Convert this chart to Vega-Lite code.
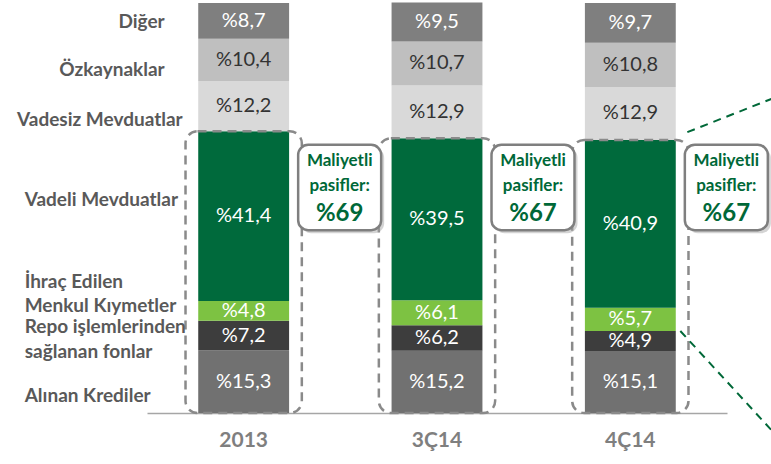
{
  "$schema": "https://vega.github.io/schema/vega-lite/v6.json",
  "width": 580,
  "height": 410,
  "autosize": {"type": "none"},
  "padding": {"left": 147, "top": 3, "right": 44, "bottom": 51},
  "background": "white",
  "config": {
    "view": {"stroke": null},
    "font": "Lato",
    "locale": {
      "number": {"decimal": ",", "thousands": ".", "grouping": [3], "currency": ["%", ""]}
    }
  },
  "datasets": {
    "bars": [
      {"cat": "2013", "seg": "Alınan Krediler", "o": 1, "v": 15.3},
      {"cat": "2013", "seg": "Repo", "o": 2, "v": 7.2},
      {"cat": "2013", "seg": "İhraç Edilen Menkul Kıymetler", "o": 3, "v": 4.8},
      {"cat": "2013", "seg": "Vadeli Mevduatlar", "o": 4, "v": 41.4},
      {"cat": "2013", "seg": "Vadesiz Mevduatlar", "o": 5, "v": 12.2},
      {"cat": "2013", "seg": "Özkaynaklar", "o": 6, "v": 10.4},
      {"cat": "2013", "seg": "Diğer", "o": 7, "v": 8.7},
      {"cat": "3Ç14", "seg": "Alınan Krediler", "o": 1, "v": 15.2},
      {"cat": "3Ç14", "seg": "Repo", "o": 2, "v": 6.2},
      {"cat": "3Ç14", "seg": "İhraç Edilen Menkul Kıymetler", "o": 3, "v": 6.1},
      {"cat": "3Ç14", "seg": "Vadeli Mevduatlar", "o": 4, "v": 39.5},
      {"cat": "3Ç14", "seg": "Vadesiz Mevduatlar", "o": 5, "v": 12.9},
      {"cat": "3Ç14", "seg": "Özkaynaklar", "o": 6, "v": 10.7},
      {"cat": "3Ç14", "seg": "Diğer", "o": 7, "v": 9.5},
      {"cat": "4Ç14", "seg": "Alınan Krediler", "o": 1, "v": 15.1},
      {"cat": "4Ç14", "seg": "Repo", "o": 2, "v": 4.9},
      {"cat": "4Ç14", "seg": "İhraç Edilen Menkul Kıymetler", "o": 3, "v": 5.7},
      {"cat": "4Ç14", "seg": "Vadeli Mevduatlar", "o": 4, "v": 40.9},
      {"cat": "4Ç14", "seg": "Vadesiz Mevduatlar", "o": 5, "v": 12.9},
      {"cat": "4Ç14", "seg": "Özkaynaklar", "o": 6, "v": 10.8},
      {"cat": "4Ç14", "seg": "Diğer", "o": 7, "v": 9.7}
    ],
    "costly": [
      {"cat": "2013", "v": 68.7},
      {"cat": "3Ç14", "v": 67.0},
      {"cat": "4Ç14", "v": 66.6}
    ],
    "labels": [
      {"t": "Diğer", "y": 95.4},
      {"t": "Özkaynaklar", "y": 83.7},
      {"t": "Vadesiz Mevduatlar", "y": 71.5},
      {"t": "Vadeli Mevduatlar", "y": 52},
      {"t": "İhraç Edilen", "y": 32},
      {"t": "Menkul Kıymetler", "y": 26.1},
      {"t": "Repo işlemlerinden", "y": 21},
      {"t": "sağlanan fonlar", "y": 14.9},
      {"t": "Alınan Krediler", "y": 4.1}
    ]
  },
  "layer": [
    {
      "data": {"name": "bars"},
      "mark": {"type": "bar"},
      "encoding": {
        "x": {
          "field": "cat", "type": "nominal",
          "scale": {"domain": ["2013", "3Ç14", "4Ç14"], "paddingInner": 0.53, "paddingOuter": 0.265},
          "axis": {
            "title": null, "domainColor": "#a6a6a6", "domainWidth": 1.5, "ticks": false,
            "labelFont": "Lato", "labelFontWeight": "bold", "labelFontSize": 21,
            "labelColor": "#7f7f7f", "labelPadding": 16, "labelAngle": 0
          }
        },
        "y": {
          "field": "v", "type": "quantitative", "stack": "zero",
          "scale": {"domain": [0, 100], "nice": false}, "axis": null
        },
        "color": {
          "field": "seg", "type": "nominal", "legend": null,
          "scale": {
            "domain": ["Alınan Krediler", "Repo", "İhraç Edilen Menkul Kıymetler", "Vadeli Mevduatlar", "Vadesiz Mevduatlar", "Özkaynaklar", "Diğer"],
            "range": ["#717171", "#3d3d3d", "#7dc242", "#006a3c", "#d9d9d9", "#bfbfbf", "#7f7f7f"]
          }
        },
        "order": {"field": "o", "type": "quantitative"}
      }
    },
    {
      "data": {"name": "bars"},
      "mark": {"type": "text", "fontSize": 20, "font": "Lato", "baseline": "middle"},
      "encoding": {
        "x": {"field": "cat", "type": "nominal"},
        "y": {"field": "v", "type": "quantitative", "stack": "zero", "bandPosition": 0.5},
        "order": {"field": "o", "type": "quantitative"},
        "text": {"field": "v", "type": "quantitative", "format": "$.1f"},
        "color": {
          "condition": {"test": "datum.seg === 'Özkaynaklar' || datum.seg === 'Vadesiz Mevduatlar'", "value": "#333333"},
          "value": "white"
        }
      }
    },
    {
      "data": {"name": "costly"},
      "mark": {"type": "bar", "filled": false, "stroke": "#8a8a8a", "strokeWidth": 2.5, "strokeDash": [9, 6], "cornerRadius": 12, "width": {"band": 1.28}},
      "encoding": {
        "x": {"field": "cat", "type": "nominal"},
        "y": {"field": "v", "type": "quantitative"},
        "y2": {"datum": 0}
      }
    },
    {
      "data": {"name": "costly"},
      "mark": {"type": "bar", "fill": "#a0a0a0", "opacity": 0.45, "cornerRadius": 10, "width": 83, "xOffset": 99, "yOffset": 3, "y2Offset": 3},
      "encoding": {
        "x": {"field": "cat", "type": "nominal"},
        "y": {"datum": 65.4},
        "y2": {"datum": 44.6}
      }
    },
    {
      "data": {"name": "costly"},
      "mark": {"type": "bar", "fill": "white", "stroke": "#7f7f7f", "strokeWidth": 2.5, "cornerRadius": 10, "width": 83, "xOffset": 96},
      "encoding": {
        "x": {"field": "cat", "type": "nominal"},
        "y": {"datum": 65.4},
        "y2": {"datum": 44.6}
      }
    },
    {
      "data": {"name": "costly"},
      "mark": {"type": "text", "font": "Lato", "fontWeight": "bold", "fontSize": 17, "color": "#006838", "baseline": "middle", "xOffset": 96},
      "encoding": {
        "x": {"field": "cat", "type": "nominal"},
        "y": {"datum": 61.5},
        "text": {"value": "Maliyetli"}
      }
    },
    {
      "data": {"name": "costly"},
      "mark": {"type": "text", "font": "Lato", "fontWeight": "bold", "fontSize": 17, "color": "#006838", "baseline": "middle", "xOffset": 96},
      "encoding": {
        "x": {"field": "cat", "type": "nominal"},
        "y": {"datum": 55.4},
        "text": {"value": "pasifler:"}
      }
    },
    {
      "data": {"name": "costly"},
      "mark": {"type": "text", "font": "Lato", "fontWeight": "bold", "fontSize": 24, "color": "#006838", "baseline": "middle", "xOffset": 96},
      "encoding": {
        "x": {"field": "cat", "type": "nominal"},
        "y": {"datum": 48.6},
        "text": {"field": "v", "type": "quantitative", "format": "$.0f"}
      }
    },
    {
      "data": {"values": [{}]},
      "mark": {"type": "rule", "color": "#006838", "strokeWidth": 2, "strokeDash": [8, 6], "xOffset": 50, "x2Offset": 141, "y2Offset": 17},
      "encoding": {
        "x": {"datum": "4Ç14", "type": "nominal"},
        "x2": {"datum": "4Ç14"},
        "y": {"datum": 20},
        "y2": {"datum": 0}
      }
    },
    {
      "data": {"values": [{}]},
      "mark": {"type": "rule", "color": "#006838", "strokeWidth": 2, "strokeDash": [8, 6], "xOffset": 57, "x2Offset": 141},
      "encoding": {
        "x": {"datum": "4Ç14", "type": "nominal"},
        "x2": {"datum": "4Ç14"},
        "y": {"datum": 68.5},
        "y2": {"datum": 76.6}
      }
    },
    {
      "data": {"name": "labels"},
      "transform": [{"filter": "datum.t === 'Diğer' || datum.t === 'Özkaynaklar'"}],
      "mark": {"type": "text", "font": "Lato", "fontWeight": "bold", "fontSize": 19, "color": "#595959", "align": "right", "baseline": "middle", "dx": -79},
      "encoding": {
        "x": {"datum": "2013", "type": "nominal"},
        "y": {"field": "y", "type": "quantitative"},
        "text": {"field": "t"}
      }
    },
    {
      "data": {"name": "labels"},
      "transform": [{"filter": "datum.t === 'Vadesiz Mevduatlar'"}],
      "mark": {"type": "text", "font": "Lato", "fontWeight": "bold", "fontSize": 19, "color": "#595959", "align": "right", "baseline": "middle", "dx": -61},
      "encoding": {
        "x": {"datum": "2013", "type": "nominal"},
        "y": {"field": "y", "type": "quantitative"},
        "text": {"field": "t"}
      }
    },
    {
      "data": {"name": "labels"},
      "transform": [{"filter": "datum.t !== 'Diğer' && datum.t !== 'Özkaynaklar' && datum.t !== 'Vadesiz Mevduatlar'"}],
      "mark": {"type": "text", "font": "Lato", "fontWeight": "bold", "fontSize": 19, "color": "#595959", "align": "left", "baseline": "middle", "dx": -219},
      "encoding": {
        "x": {"datum": "2013", "type": "nominal"},
        "y": {"field": "y", "type": "quantitative"},
        "text": {"field": "t"}
      }
    }
  ]
}
